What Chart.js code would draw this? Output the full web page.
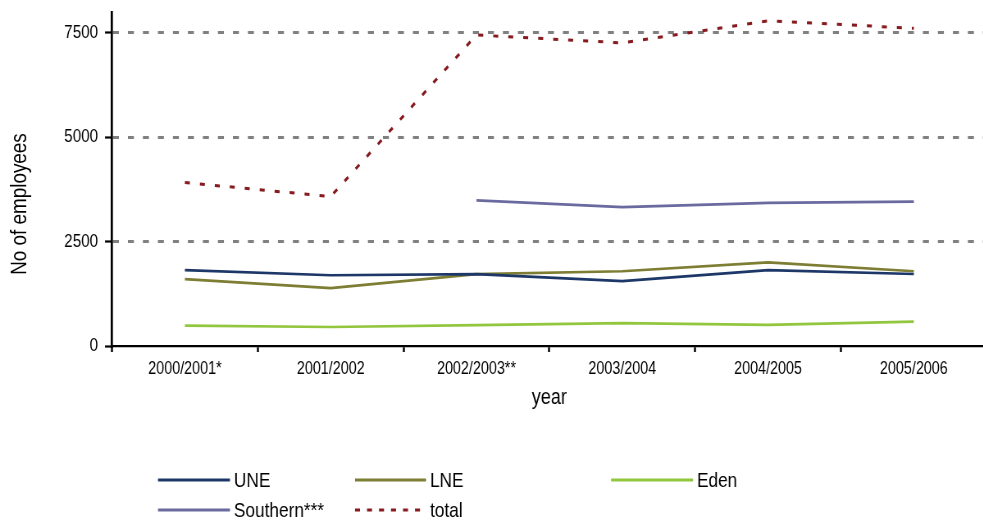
<!DOCTYPE html>
<html>
<head>
<meta charset="utf-8">
<script src="https://cdn.jsdelivr.net/npm/chart.js@4/dist/chart.umd.min.js"></script>
<style>
  html, body { margin: 0; padding: 0; background: #fff; }
  #wrap { width: 983px; height: 523px; overflow: hidden; position: relative; }
  /* the canvas is drawn wide and squeezed horizontally, giving condensed lettering */
  canvas { display: block; transform-origin: 0 0; }
</style>
</head>
<body>
<div id="wrap"><canvas id="chart"></canvas></div>
<script>
// Employees per area, by financial year
const years = ['2000/2001*', '2001/2002', '2002/2003**', '2003/2004', '2004/2005', '2005/2006'];
const une      = [1815, 1695, 1720, 1555, 1815, 1725];
const lne      = [1600, 1385, 1720, 1790, 2005, 1790];
const eden     = [490, 455, 500, 550, 505, 585];
const southern = [null, null, 3490, 3325, 3430, 3460];
const total    = [3915, 3580, 7450, 7260, 7790, 7610];
const yTicks   = [0, 2500, 5000, 7500];

const SQ = 0.82;          // horizontal squeeze applied to the canvas
const K = 1 / SQ;         // canvas units per screen pixel, horizontally
const FONT = '"Liberation Sans", Arial, sans-serif';

const canvas = document.getElementById('chart');
canvas.width = Math.round(990 * K);
canvas.height = 523;
canvas.style.width = canvas.width + 'px';
canvas.style.height = '523px';
canvas.style.transform = 'scaleX(' + SQ + ')';

// Legend laid out in a fixed three-column grid below the axis (screen px)
const legendLayout = [
  { x: 158, y: 480, len: 72 },
  { x: 355, y: 480, len: 71 },
  { x: 611, y: 480, len: 82 },
  { x: 158, y: 510, len: 72 },
  { x: 355, y: 510, len: 71 }
];

const customDecor = {
  id: 'customDecor',
  afterDraw(chart) {
    const ctx = chart.ctx;
    // rotated y-axis title, condensed along its own reading direction
    ctx.save();
    ctx.translate(20 * K, 204);
    ctx.scale(K, 1);
    ctx.rotate(-Math.PI / 2);
    ctx.scale(SQ, 1);
    ctx.fillStyle = '#000';
    ctx.font = '23px ' + FONT;
    ctx.textAlign = 'center';
    ctx.textBaseline = 'middle';
    ctx.fillText('No of employees', 0, 0);
    ctx.restore();

    ctx.save();
    ctx.font = '21px ' + FONT;
    ctx.textBaseline = 'middle';
    ctx.textAlign = 'left';
    chart.data.datasets.forEach((ds, i) => {
      const p = legendLayout[i];
      ctx.beginPath();
      ctx.strokeStyle = ds.borderColor;
      ctx.lineWidth = 3;
      ctx.setLineDash(ds.borderDash ? [5 * K, 7 * K] : []);
      ctx.moveTo(p.x * K, p.y);
      ctx.lineTo((p.x + p.len) * K, p.y);
      ctx.stroke();
      ctx.setLineDash([]);
      ctx.fillStyle = '#000';
      ctx.fillText(ds.label, (p.x + p.len + 4) * K, p.y + 1);
    });
    ctx.restore();
  }
};

const lineDs = (label, data, color, extra) => Object.assign({
  label, data,
  borderColor: color,
  backgroundColor: color,
  borderWidth: 2.7,
  pointRadius: 0,
  tension: 0,
  fill: false,
  spanGaps: false
}, extra || {});

new Chart(canvas, {
  type: 'line',
  data: {
    labels: years,
    datasets: [
      lineDs('UNE', une, '#1d3868'),
      lineDs('LNE', lne, '#7d7d34'),
      lineDs('Eden', eden, '#93c63f'),
      lineDs('Southern***', southern, '#6a6aa0'),
      lineDs('total', total, '#861a1e', { borderDash: [5 * K, 10 * K], borderWidth: 3 })
    ]
  },
  plugins: [customDecor],
  options: {
    responsive: false,
    animation: false,
    devicePixelRatio: 1,
    layout: { padding: { top: 12, right: 3 * K, bottom: 112, left: 0 } },
    plugins: {
      legend: { display: false },
      tooltip: { enabled: false }
    },
    scales: {
      x: {
        offset: true,
        grid: {
          offset: true,
          drawOnChartArea: false,
          tickColor: '#000',
          tickLength: 6,
          tickWidth: 2 * K
        },
        border: { color: '#000', width: 2.2 },
        ticks: {
          color: '#000',
          font: { family: FONT, size: 17.5 },
          padding: 7,
          maxRotation: 0,
          autoSkip: false
        },
        title: {
          display: true,
          text: 'year',
          color: '#000',
          font: { family: FONT, size: 22 },
          padding: { top: 0, bottom: 0 }
        },
        afterFit(scale) { scale.height = 65; }
      },
      y: {
        min: 0,
        max: 8000,
        afterBuildTicks(scale) {
          scale.ticks = yTicks.map(v => ({ value: v }));
        },
        afterFit(scale) {
          scale.width = 112 * K;
          scale.paddingTop = 0;
          scale.paddingBottom = 0;
        },
        grid: {
          color: ctx => (ctx.tick && ctx.tick.value === 0) ? 'rgba(0,0,0,0)' : '#808080',
          lineWidth: 3,
          tickColor: '#000',
          tickLength: 7 * K,
          tickWidth: 2.2,
          tickBorderDash: []
        },
        border: { color: '#000', width: 2.2 * K, dash: [6 * K, 9 * K] },
        ticks: {
          color: '#000',
          font: { family: FONT, size: 18.5 },
          padding: 7 * K,
          callback: v => String(v)
        }
      }
    }
  }
});
</script>
</body>
</html>
